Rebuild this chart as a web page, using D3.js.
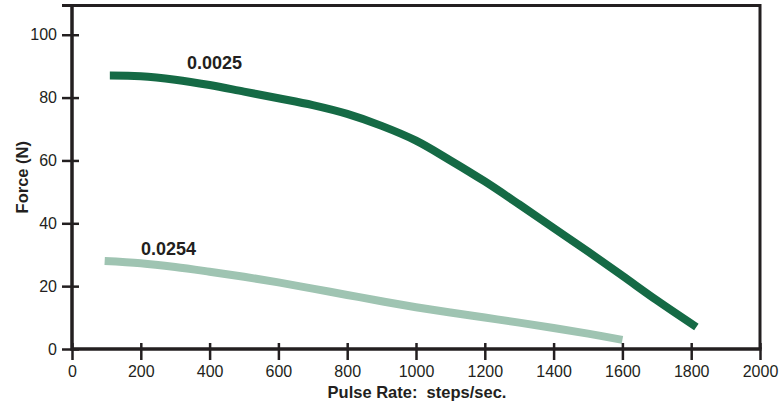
<!DOCTYPE html>
<html>
<head>
<meta charset="utf-8">
<script src="https://cdn.jsdelivr.net/npm/d3@7"></script>
<style>
  body { margin: 0; background: #fff; }
  text { font-family: "Liberation Sans", Arial, Helvetica, sans-serif; fill: #231f20; }
</style>
</head>
<body>
<div id="chart"></div>
<script>
// Data
const xTicks = [0, 200, 400, 600, 800, 1000, 1200, 1400, 1600, 1800, 2000];
const yTicks = [0, 20, 40, 60, 80, 100];

const rateA  = [110, 200, 300, 400, 500, 600, 700, 800, 900, 1000, 1100, 1200, 1300, 1400, 1500, 1600, 1700, 1815];
const forceA = [87, 86.8, 85.7, 84, 81.9, 79.8, 77.6, 74.8, 71, 66.3, 60, 53.3, 46, 38.5, 31, 23.3, 15.5, 7];

const rateB  = [95, 200, 300, 400, 500, 600, 700, 800, 900, 1000, 1100, 1200, 1300, 1400, 1500, 1600];
const forceB = [28, 27.3, 26.1, 24.6, 23, 21.2, 19.2, 17.2, 15.2, 13.3, 11.6, 10, 8.4, 6.7, 4.9, 2.9];

const labelA = "0.0025", labelB = "0.0254";

const series = [
  { name: labelA, rate: rateA, force: forceA, color: "#156a45", lx: 187, ly: 69 },
  { name: labelB, rate: rateB, force: forceB, color: "#9fc4b2", lx: 141, ly: 255 }
];

// Set the dimensions of the graph
const W = 780, H = 405;
const svg = d3.select("#chart").append("svg")
    .attr("width", W)
    .attr("height", H);

const x = d3.scaleLinear().domain([0, 2000]).range([72, 760]);
const y = d3.scaleLinear().domain([0, 109.3]).range([349, 5.5]);

// Curves
const line = d3.line()
    .x(d => x(d[0]))
    .y(d => y(d[1]))
    .curve(d3.curveCatmullRom.alpha(0.5));

series.forEach(s => {
  svg.append("path")
    .datum(s.rate.map((r, i) => [r, s.force[i]]))
    .attr("fill", "none")
    .attr("stroke", s.color)
    .attr("stroke-width", 8)
    .attr("stroke-linecap", "butt")
    .attr("d", line);

  svg.append("text")
    .attr("x", s.lx)
    .attr("y", s.ly)
    .style("font-size", "18px")
    .style("font-weight", "bold")
    .text(s.name);
});

// Frame (top and right)
svg.append("path")
    .attr("fill", "none")
    .attr("stroke", "#231f20")
    .attr("stroke-width", 3)
    .attr("d", `M${x(0) - 10},${y(109.3)}H${x(2000)}V${y(0)}`);

// X axis
const gx = svg.append("g")
    .attr("transform", `translate(0,${y(0)})`)
    .call(d3.axisBottom(x).tickValues(xTicks).tickFormat(d3.format("d"))
      .tickSize(11).tickSizeOuter(0));
gx.select(".domain").remove();
gx.selectAll(".tick line").attr("y1", -6).attr("stroke", "#231f20").attr("stroke-width", 2.5);
gx.selectAll(".tick text").style("font-size", "16px").attr("y", 28).attr("dy", 0);

// Y axis
const gy = svg.append("g")
    .attr("transform", `translate(${x(0)},0)`)
    .call(d3.axisLeft(y).tickValues(yTicks).tickFormat(d3.format("d"))
      .tickSize(10).tickSizeOuter(0).tickPadding(5));
gy.select(".domain").remove();
gy.selectAll(".tick line").attr("x1", 7).attr("stroke", "#231f20").attr("stroke-width", 2.5);
gy.selectAll(".tick text").style("font-size", "16px");

// Thick axis lines
svg.append("path")
    .attr("fill", "none")
    .attr("stroke", "#231f20")
    .attr("stroke-width", 3.5)
    .attr("d", `M${x(0)},${y(109.3) - 1.5}V${y(0)}H${x(2000) + 1.5}`);

// Axis labels
svg.append("text")
    .attr("x", 417)
    .attr("y", 398)
    .attr("text-anchor", "middle")
    .attr("xml:space", "preserve")
    .style("white-space", "pre")
    .style("font-size", "16.5px")
    .style("font-weight", "bold")
    .text("Pulse Rate:  steps/sec.");

svg.append("text")
    .attr("transform", `translate(28,${y(0) - (y(0) - y(109.3)) / 2}) rotate(-90)`)
    .attr("text-anchor", "middle")
    .style("font-size", "16.5px")
    .style("font-weight", "bold")
    .text("Force (N)");
</script>
</body>
</html>
